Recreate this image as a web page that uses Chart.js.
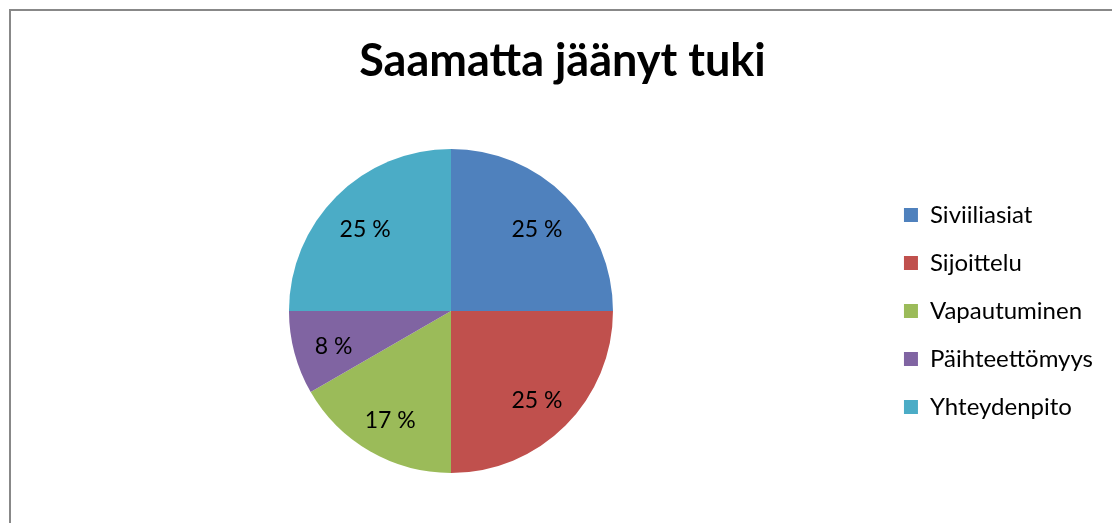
<!DOCTYPE html>
<html>
<head>
<meta charset="utf-8">
<script src="https://cdn.jsdelivr.net/npm/chart.js@4/dist/chart.umd.min.js"></script>
<style>
  html, body { margin: 0; padding: 0; background: #fff; overflow: hidden; }
  #wrap { position: relative; width: 1112px; height: 523px; }
  #frame { position: absolute; left: 9px; top: 9px; width: 1120px; height: 530px; border: 2px solid #888; box-sizing: border-box; }
  canvas { position: absolute; left: 0; top: 0; }
</style>
</head>
<body>
<div id="wrap">
  <div id="frame"></div>
  <canvas id="pieChart" width="1112" height="523"></canvas>
</div>
<script>
const chartTitle = 'Saamatta jäänyt tuki';
const categories = ['Siviiliasiat', 'Sijoittelu', 'Vapautuminen', 'Päihteettömyys', 'Yhteydenpito'];
const counts = [3, 3, 2, 1, 3];
const sliceColors = ['#4F81BD', '#C0504D', '#9BBB59', '#8064A2', '#4BACC6'];

const fontFamily = 'Lato, "Open Sans", sans-serif';

// percent labels inside slices, like Excel's data labels
const sliceLabels = {
  id: 'sliceLabels',
  afterDatasetsDraw(chart) {
    const ctx = chart.ctx;
    const meta = chart.getDatasetMeta(0);
    const data = chart.data.datasets[0].data;
    const total = data.reduce((a, b) => a + b, 0);
    ctx.save();
    ctx.font = '23px ' + fontFamily;
    ctx.fillStyle = '#000';
    ctx.textAlign = 'center';
    ctx.textBaseline = 'middle';
    meta.data.forEach((arc, i) => {
      const p = arc.getProps(['x', 'y', 'startAngle', 'endAngle', 'outerRadius'], true);
      const mid = (p.startAngle + p.endAngle) / 2;
      const r = p.outerRadius * 0.75;
      const txt = Math.round(data[i] / total * 100) + ' %';
      ctx.fillText(txt, p.x + Math.cos(mid) * r, p.y + Math.sin(mid) * r + 4);
    });
    ctx.restore();
  }
};

new Chart(document.getElementById('pieChart'), {
  type: 'pie',
  data: {
    labels: categories,
    datasets: [{
      data: counts,
      backgroundColor: sliceColors,
      borderWidth: 0
    }]
  },
  options: {
    responsive: false,
    animation: false,
    layout: { padding: { left: 22, right: 9, top: 0, bottom: 50 } },
    plugins: {
      title: {
        display: true,
        text: chartTitle,
        color: '#000',
        font: { family: fontFamily, size: 45, weight: 'bold' },
        padding: { top: 34, bottom: 61 }
      },
      legend: {
        position: 'right',
        fullSize: false,
        labels: {
          color: '#000',
          font: { family: fontFamily, size: 24 },
          boxWidth: 14,
          boxHeight: 14,
          padding: 24
        }
      },
      tooltip: { enabled: false }
    }
  },
  plugins: [sliceLabels]
});
</script>
</body>
</html>
